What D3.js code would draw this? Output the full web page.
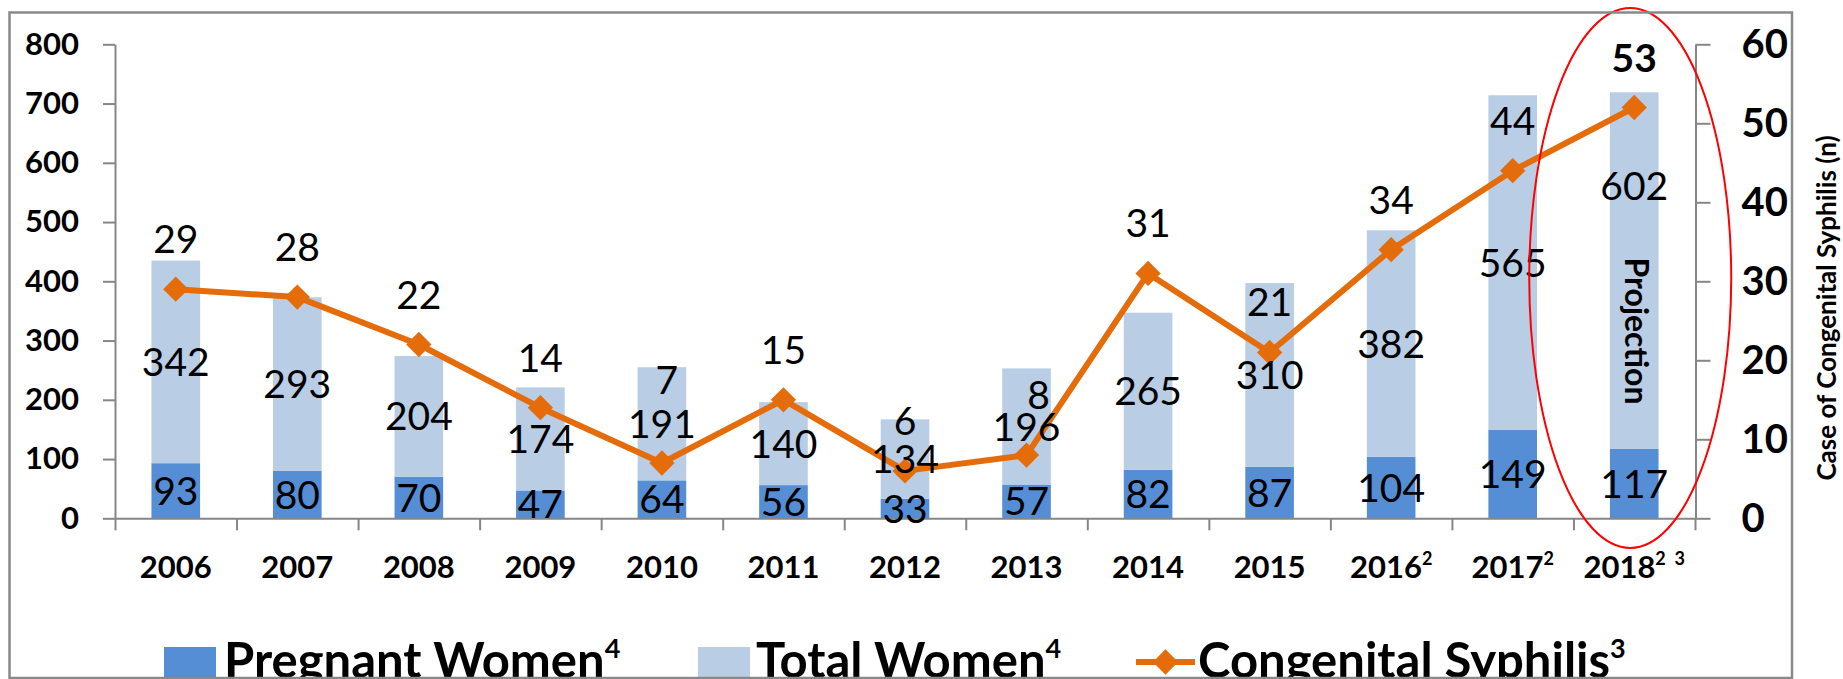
<!DOCTYPE html>
<html>
<head>
<meta charset="utf-8">
<script src="https://cdn.jsdelivr.net/npm/d3@7"></script>
<style>
  html, body { margin: 0; padding: 0; background: #fff; }
  svg { display: block; }
  text { font-family: Lato, "Open Sans", sans-serif; }
</style>
</head>
<body>
<svg id="chart"></svg>
<script>
// data
const years = ['2006', '2007', '2008', '2009', '2010', '2011', '2012', '2013', '2014', '2015', '2016', '2017', '2018'];
const yearSup = ['', '', '', '', '', '', '', '', '', '', '2', '2', '2 3'];
const pregnantWomen = [93, 80, 70, 47, 64, 56, 33, 57, 82, 87, 104, 149, 117];
const totalWomen = [342, 293, 204, 174, 191, 140, 134, 196, 265, 310, 382, 565, 602];
const congenital = [29, 28, 22, 14, 7, 15, 6, 8, 31, 21, 34, 44, 52];
const congenitalLabels = ['29', '28', '22', '14', '7', '15', '6', '8', '31', '21', '34', '44', '53'];
const leftTicks = [0, 100, 200, 300, 400, 500, 600, 700, 800];
const rightTicks = [0, 10, 20, 30, 40, 50, 60];

const width = 1843;
const height = 679;

const colDark = '#558ed5';
const colLight = '#b9cde5';
const colLine = '#e46c0a';
const colAxis = '#868686';

const svg = d3.select('#chart')
    .attr('width', width)
    .attr('height', height);

svg.append('rect').attr('width', width).attr('height', height).attr('fill', '#fff');

const x = d3.scaleBand()
    .domain(years)
    .range([115, 1695])
    .paddingInner(0.6)
    .paddingOuter(0.3);

const yL = d3.scaleLinear().domain([0, 800]).range([518.3, 44.3]);
const yR = d3.scaleLinear().domain([0, 60]).range([518.3, 44.3]);

const rows = years.map((yr, i) => ({
    year: yr,
    sup: yearSup[i],
    preg: pregnantWomen[i],
    tot: totalWomen[i],
    cs: congenital[i],
    csLabel: congenitalLabels[i]
}));

const cx = d => x(d.year) + x.bandwidth() / 2;

// stacked bars
const g = svg.append('g');
g.selectAll('rect.preg')
    .data(rows)
    .enter().append('rect')
    .attr('class', 'preg')
    .attr('x', d => x(d.year))
    .attr('width', x.bandwidth())
    .attr('y', d => yL(d.preg))
    .attr('height', d => yL(0) - yL(d.preg))
    .attr('fill', colDark);

g.selectAll('rect.tot')
    .data(rows)
    .enter().append('rect')
    .attr('class', 'tot')
    .attr('x', d => x(d.year))
    .attr('width', x.bandwidth())
    .attr('y', d => yL(d.preg + d.tot))
    .attr('height', d => yL(d.preg) - yL(d.preg + d.tot))
    .attr('fill', colLight);

// left axis
const axL = svg.append('g')
    .attr('transform', 'translate(115,0)')
    .call(d3.axisLeft(yL).tickValues(leftTicks).tickSize(12).tickSizeOuter(0).tickPadding(24));
axL.selectAll('text').attr('font-size', 31).attr('font-weight', 700).attr('fill', '#000')
    .attr('font-family', 'Lato');

// right axis
const axR = svg.append('g')
    .attr('transform', 'translate(1695.5,0)')
    .call(d3.axisRight(yR).tickValues(rightTicks).tickSize(15).tickSizeOuter(0).tickPadding(31));
axR.selectAll('text').attr('font-size', 40).attr('font-weight', 700).attr('fill', '#000')
    .attr('font-family', 'Lato');

// bottom axis: ticks on category boundaries
const xEdge = d3.scaleLinear().domain([0, years.length]).range(x.range());
const axB = svg.append('g')
    .attr('transform', `translate(0,${yL(0)})`)
    .call(d3.axisBottom(xEdge).tickValues(d3.range(years.length + 1)).tickFormat('').tickSize(12).tickSizeOuter(0));

[axL, axR, axB].forEach(a => {
    a.selectAll('path, line').attr('stroke', colAxis).attr('stroke-width', 2);
});

// year labels
const xl = svg.append('g').selectAll('text')
    .data(rows)
    .enter().append('text')
    .attr('x', cx)
    .attr('y', 578)
    .attr('text-anchor', 'middle')
    .attr('font-size', 31)
    .attr('font-weight', 700);
xl.append('tspan').text(d => d.year);
xl.filter(d => d.sup).append('tspan')
    .attr('font-size', 18)
    .attr('dy', -13)
    .text(d => d.sup.replace(' ', '\u00a0\u00a0'));

// congenital syphilis line
const line = d3.line().x(cx).y(d => yR(d.cs));
svg.append('path')
    .datum(rows)
    .attr('d', line)
    .attr('fill', 'none')
    .attr('stroke', colLine)
    .attr('stroke-width', 6)
    .attr('stroke-linejoin', 'round');

const diamond = d3.symbol().type(d3.symbolSquare).size(320);
svg.append('g').selectAll('path')
    .data(rows)
    .enter().append('path')
    .attr('d', diamond)
    .attr('transform', d => `translate(${cx(d)},${yR(d.cs)}) rotate(45)`)
    .attr('fill', colLine);

// data labels
const labelFont = 39;
svg.append('g').selectAll('text')
    .data(rows)
    .enter().append('text')
    .attr('x', cx)
    .attr('y', d => (yL(0) + yL(d.preg)) / 2)
    .attr('dy', '0.36em')
    .attr('text-anchor', 'middle')
    .attr('font-size', labelFont)
    .text(d => d.preg);

// 2018 total label sits high to leave room for "Projection"
const totNudge = { '2018': -85 };
svg.append('g').selectAll('text')
    .data(rows)
    .enter().append('text')
    .attr('x', cx)
    .attr('y', d => (yL(d.preg) + yL(d.preg + d.tot)) / 2 + (totNudge[d.year] || 0))
    .attr('dy', '0.36em')
    .attr('text-anchor', 'middle')
    .attr('font-size', labelFont)
    .text(d => d.tot);

// a few line labels were moved by hand in the original
const csNudge = { '2010': [5, -33], '2013': [12, -10] };
svg.append('g').selectAll('text')
    .data(rows)
    .enter().append('text')
    .attr('x', d => cx(d) + (csNudge[d.year] ? csNudge[d.year][0] : 0))
    .attr('y', d => yR(d.cs) - 50 + (csNudge[d.year] ? csNudge[d.year][1] : 0))
    .attr('dy', '0.36em')
    .attr('text-anchor', 'middle')
    .attr('font-size', labelFont)
    .attr('font-weight', (d, i) => i === rows.length - 1 ? 700 : 400)
    .text(d => d.csLabel);

// projection annotation
const last = rows[rows.length - 1];
svg.append('text')
    .attr('transform', `translate(${cx(last) + 2},331) rotate(90)`)
    .attr('text-anchor', 'middle')
    .attr('dy', '0.36em')
    .attr('font-size', 32)
    .attr('font-weight', 700)
    .text('Projection');

svg.append('ellipse')
    .attr('cx', cx(last) - 4)
    .attr('cy', 278)
    .attr('rx', 101)
    .attr('ry', 270)
    .attr('fill', 'none')
    .attr('stroke', '#ff0000')
    .attr('stroke-width', 2);

// right axis title
svg.append('text')
    .attr('transform', 'translate(1827,308) rotate(-90)')
    .attr('text-anchor', 'middle')
    .attr('dy', '0.36em')
    .attr('font-size', 26)
    .attr('font-weight', 700)
    .text('Case of Congenital Syphilis (n)');

// legend
const legend = svg.append('g');
const legendItems = [
    { name: 'Pregnant Women', sup: '4', type: 'box', color: colDark, x: 164, tx: 224 },
    { name: 'Total Women', sup: '4', type: 'box', color: colLight, x: 698, tx: 756 },
    { name: 'Congenital Syphilis', sup: '3', type: 'line', color: colLine, x: 1136, tx: 1198 }
];
legendItems.forEach(it => {
    if (it.type === 'box') {
        legend.append('rect')
            .attr('x', it.x).attr('y', 647)
            .attr('width', 52).attr('height', 40)
            .attr('fill', it.color);
    } else {
        legend.append('line')
            .attr('x1', it.x).attr('x2', it.x + 59)
            .attr('y1', 662).attr('y2', 662)
            .attr('stroke', it.color).attr('stroke-width', 6);
        legend.append('path')
            .attr('d', diamond)
            .attr('transform', `translate(${it.x + 29.5},662) rotate(45)`)
            .attr('fill', it.color);
    }
    const t = legend.append('text')
        .attr('x', it.tx).attr('y', 678)
        .attr('font-size', 49)
        .attr('font-weight', 700);
    t.append('tspan').text(it.name);
    t.append('tspan').attr('font-size', 27).attr('dy', -20).text(it.sup);
});

// chart frame
svg.append('rect')
    .attr('x', 9.5).attr('y', 12.5)
    .attr('width', 1782.5).attr('height', 665.5)
    .attr('fill', 'none')
    .attr('stroke', '#898989')
    .attr('stroke-width', 2.5);
</script>
</body>
</html>
